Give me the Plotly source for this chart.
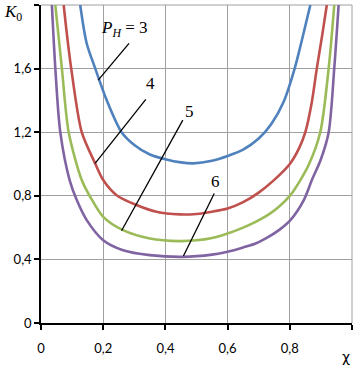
import plotly.graph_objects as go

# ---- data ----
x_p3 = [0.126, 0.147, 0.174, 0.211, 0.259, 0.30, 0.35, 0.40, 0.45, 0.49, 0.55, 0.60, 0.65, 0.70, 0.74, 0.78, 0.816, 0.839, 0.866]
y_p3 = [2.0, 1.758, 1.603, 1.402, 1.2, 1.12, 1.06, 1.03, 1.01, 1.004, 1.02, 1.05, 1.09, 1.16, 1.25, 1.39, 1.603, 1.78, 2.0]

x_p4 = [0.073, 0.083, 0.097, 0.131, 0.174, 0.2, 0.243, 0.307, 0.371, 0.445, 0.50, 0.55, 0.60, 0.65, 0.70, 0.75, 0.80, 0.83, 0.85, 0.87, 0.887, 0.905, 0.919]
y_p4 = [2.0, 1.821, 1.603, 1.2, 1.004, 0.899, 0.804, 0.742, 0.70, 0.683, 0.686, 0.70, 0.72, 0.76, 0.82, 0.90, 1.0, 1.1, 1.2, 1.38, 1.603, 1.82, 2.0]

x_p5 = [0.046, 0.067, 0.089, 0.131, 0.158, 0.2, 0.264, 0.35, 0.445, 0.50, 0.55, 0.60, 0.65, 0.69, 0.73, 0.765, 0.802, 0.834, 0.862, 0.898, 0.925, 0.943]
y_p5 = [2.0, 1.603, 1.2, 0.899, 0.794, 0.668, 0.584, 0.532, 0.515, 0.52, 0.535, 0.563, 0.60, 0.636, 0.68, 0.731, 0.804, 0.899, 1.0, 1.2, 1.603, 2.0]

x_p6 = [0.035, 0.046, 0.062, 0.092, 0.115, 0.147, 0.2, 0.264, 0.35, 0.456, 0.55, 0.6, 0.65, 0.69, 0.73, 0.765, 0.802, 0.845, 0.871, 0.90, 0.925, 0.943, 0.957]
y_p6 = [2.0, 1.603, 1.2, 0.899, 0.773, 0.647, 0.521, 0.458, 0.427, 0.416, 0.43, 0.448, 0.475, 0.50, 0.54, 0.584, 0.647, 0.773, 0.899, 1.03, 1.2, 1.603, 2.0]

series = [
    ("3", x_p3, y_p3, "#4F81BD"),
    ("4", x_p4, y_p4, "#C0504D"),
    ("5", x_p5, y_p5, "#9BBB59"),
    ("6", x_p6, y_p6, "#8064A2"),
]

x_tickvals = [0, 0.2, 0.4, 0.6, 0.8, 1.0]
x_ticktext = ["0", "0,2", "0,4", "0,6", "0,8", " "]
y_tickvals = [0, 0.4, 0.8, 1.2, 1.6, 2.0]
y_ticktext = ["0", "0,4", "0,8", "1,2", "1,6", " "]

# label text positions and leader lines (label x, label y, line start, line end)
labels = [
    ("<i>P</i><sub><i>H</i></sub> = 3", 0.268, 1.85, (0.283, 1.759), (0.184, 1.528)),
    ("4", 0.353, 1.509, (0.337, 1.406), (0.174, 1.004)),
    ("5", 0.476, 1.33, (0.456, 1.276), (0.259, 0.58)),
    ("6", 0.56, 0.889, (0.557, 0.815), (0.458, 0.421)),
]

fig = go.Figure()
for name, xs, ys, col in series:
    fig.add_trace(go.Scatter(x=xs, y=ys, mode="lines", name=name,
                             line=dict(color=col, width=2.6, shape="spline", smoothing=0.8),
                             showlegend=False, cliponaxis=True))

serif = "Liberation Serif, Times New Roman, serif"
for txt, lx, ly, (x0, y0), (x1, y1) in labels:
    fig.add_annotation(x=lx, y=ly, text=txt, showarrow=False, xref="x", yref="y",
                       font=dict(family=serif, size=17, color="black"),
                       xanchor="center", yanchor="middle")
    fig.add_shape(type="line", x0=x0, y0=y0, x1=x1, y1=y1, xref="x", yref="y",
                  line=dict(color="black", width=1.3))

# top and right grid borders
fig.add_shape(type="line", x0=0, x1=1, y0=1, y1=1, xref="paper", yref="paper",
              line=dict(color="#A0A0A0", width=1), layer="below")
fig.add_shape(type="line", x0=1, x1=1, y0=0, y1=1, xref="paper", yref="paper",
              line=dict(color="#A0A0A0", width=1), layer="below")

fig.add_annotation(x=0, y=1.0, xref="paper", yref="paper", xshift=-28, yshift=5,
                   text="<i>K</i><sub>0</sub>", showarrow=False,
                   font=dict(family=serif, size=17, color="black"),
                   xanchor="center", yanchor="top")
fig.add_annotation(x=1.0, y=0, xref="paper", yref="paper", xshift=-6, yshift=-34,
                   text="χ", showarrow=False,
                   font=dict(family="DejaVu Sans, sans-serif", size=14, color="black"),
                   xanchor="center", yanchor="middle")

tickfont = dict(family="Lato, Carlito, sans-serif", size=13, color="black")
fig.update_xaxes(range=[0, 1.0], tickvals=x_tickvals, ticktext=x_ticktext,
                 showgrid=True, gridcolor="#A0A0A0", gridwidth=1,
                 showline=True, linecolor="black", linewidth=1.5,
                 ticks="outside", ticklen=5, tickcolor="black", tickwidth=1.5,
                 ticklabelstandoff=8,
                 zeroline=False, tickfont=tickfont)
fig.update_yaxes(range=[0, 2.0], tickvals=y_tickvals, ticktext=y_ticktext,
                 showgrid=True, gridcolor="#A0A0A0", gridwidth=1,
                 showline=True, linecolor="black", linewidth=1.5,
                 ticks="outside", ticklen=5, tickcolor="black", tickwidth=1.5,
                 zeroline=False, tickfont=tickfont)

fig.update_layout(width=358, height=365,
                  margin=dict(l=41, r=4, t=5, b=42),
                  plot_bgcolor="white", paper_bgcolor="white")

fig.write_html("out.html", config={"displayModeBar": False},
               post_script="document.body.style.margin='0';document.body.style.padding='0';")
